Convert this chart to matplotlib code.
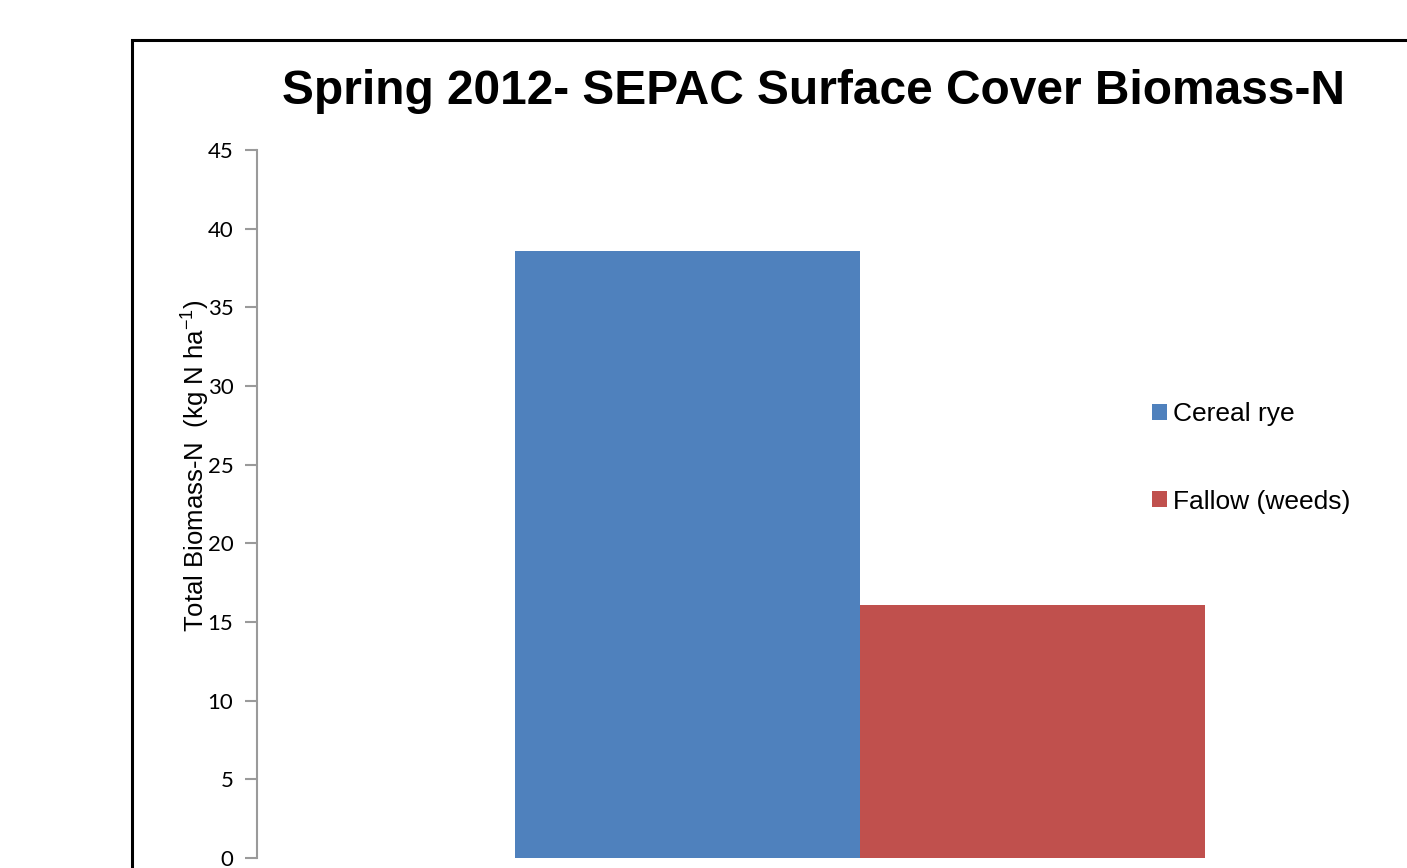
import matplotlib.pyplot as plt
from matplotlib.patches import Rectangle

series = ['Cereal rye', 'Fallow (weeds)']
values = [38.6, 16.1]
colors = ['#4F81BD', '#C0504D']
yticks = [0, 5, 10, 15, 20, 25, 30, 35, 40, 45]

W, H = 1407, 868
fig = plt.figure(figsize=(W / 100, H / 100), dpi=100)

# chart frame (cut off at the right and bottom in the original)
fig.patches.append(Rectangle((132 / W, -0.1), 1.2, 1 - 40 / H + 0.1,
                             transform=fig.transFigure, fill=False,
                             edgecolor='black', linewidth=2.2))

ax = fig.add_axes([257 / W, 1 - 858 / H, 1206 / W, 708 / H])
bw = 345 / 1206
xs = [-bw / 2, bw / 2]
bars = []
for x, v, c, s in zip(xs, values, colors, series):
    bars.append(ax.bar(x, v, width=bw, color=c, label=s))
ax.set_xlim(-0.5, 0.5)
ax.set_ylim(0, 45)
ax.set_yticks(yticks)
ax.set_xticks([])
for sp in ['top', 'right', 'bottom']:
    ax.spines[sp].set_visible(False)
ax.spines['left'].set_color('#9a9a9a')
ax.spines['left'].set_linewidth(1.5)
ax.tick_params(axis='y', direction='out', length=9, width=1.5, color='#9a9a9a',
               labelsize=16, pad=8)
for t in ax.get_yticklabels():
    t.set_fontfamily('Lato')

# the label sits on top of the tick numbers in the original too
fig.text(195 / W, 1 - 466 / H, 'Total Biomass-N  (kg N ha$^{\\mathregular{-1}}$)',
         rotation=90, ha='center', va='center', fontsize=18.5,
         family='Liberation Sans')

fig.text(813 / W, 1 - 92 / H, 'Spring 2012- SEPAC Surface Cover Biomass-N',
         ha='center', va='center', fontsize=34.5, fontweight='bold',
         family='Liberation Sans')

fig.legend(handles=[b[0] for b in bars], labels=series, loc='upper left',
           bbox_to_anchor=(1139 / W, 1 - 389 / H), frameon=False,
           prop={'family': 'Liberation Sans', 'size': 19},
           handlelength=0.55, handleheight=0.55, handletextpad=0.25,
           labelspacing=2.4, borderpad=0)

fig.savefig('out.png', dpi=100)
